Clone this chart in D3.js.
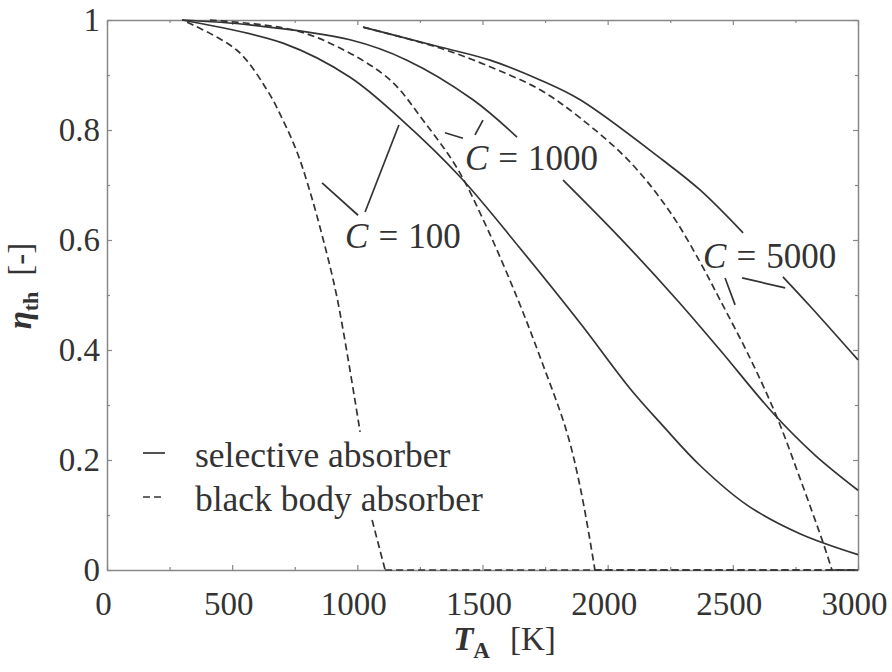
<!DOCTYPE html>
<html>
<head>
<meta charset="utf-8">
<script src="https://cdn.jsdelivr.net/npm/d3@7"></script>
<style>
  body { margin: 0; background: #fff; }
</style>
</head>
<body>
<script>
// efficiency curves, [T_A in K, eta_th]; null = gap left for a label
const selective100 = [[300, 1.0], [703, 0.958], [971, 0.896], [1178, 0.818], [1410, 0.715],
  [1650, 0.585], [1890, 0.449], [2089, 0.330], [2221, 0.262], [2369, 0.190], [2557, 0.118],
  [2768, 0.066], [3000, 0.028]];
const selective1000 = [[300, 1.0], [571, 0.991], [971, 0.964], [1198, 0.927], [1462, 0.855],
  [1638, 0.787], [1730, null], [1822, 0.709], [2049, 0.604], [2277, 0.491], [2449, 0.40],
  [2661, 0.285], [2828, 0.209], [3000, 0.145]];
const selective5000 = [[1023, 0.987], [1330, 0.951], [1530, 0.927], [1730, 0.891], [1890, 0.855],
  [2221, 0.745], [2369, 0.691], [2541, 0.613], [2620, null], [2700, 0.533], [2808, 0.48], [3000, 0.382]];
const blackbody100 = [[320, 0.996], [519, 0.945], [639, 0.873], [703, 0.818], [759, 0.760],
  [803, 0.700], [859, 0.609], [919, 0.495], [1011, 0.251], [1035, null], [1059, 0.091], [1111, 0]];
const blackbody1000 = [[411, 1.0], [743, 0.982], [931, 0.949], [1131, 0.891], [1262, 0.818],
  [1398, 0.731], [1518, 0.622], [1642, 0.491], [1740, 0.375], [1838, 0.249], [1895, 0.140], [1949, 0]];
const blackbody5000 = [[1023, 0.987], [1330, 0.949], [1530, 0.915], [1730, 0.873], [1890, 0.822],
  [2089, 0.742], [2249, 0.651], [2369, 0.560], [2449, 0.491], [2569, 0.385], [2676, 0.278],
  [2768, 0.167], [2861, 0.049], [2896, 0]];
// black body curves stay at eta = 0 from where they hit zero up to 3000 K
const blackbodyZeroFrom = [1111, 1949, 2896];

const xMajor = [0, 500, 1000, 1500, 2000, 2500, 3000];
const xMinor = [250, 750, 1250, 1750, 2250, 2750];
const yMajor = [0, 0.2, 0.4, 0.6, 0.8, 1];
const yMinor = [0.1, 0.3, 0.5, 0.7, 0.9];

// "C = ..." annotations: label anchor and leader lines, in data units
const labelNames = ["100", "1000", "5000"];
const labelAnchors = [[951, 0.585], [1430, 0.727], [2381, 0.549]];
const leaderLines = [
  [[859, 0.704], [1003, 0.645]], [[1031, 0.651], [1166, 0.809]],
  [[1350, 0.795], [1422, 0.785]], [[1470, 0.791], [1502, 0.818]],
  [[2469, 0.531], [2509, 0.482]], [[2537, 0.531], [2709, 0.513]]
];

const W = 892, H = 672;
const margin = {top: 20, right: 34, bottom: 102, left: 107};
const width = W - margin.left - margin.right;
const height = H - margin.top - margin.bottom;
const serif = "Liberation Serif";

// every text gets the serif face both as attribute and inline style
function serifText(sel, size) {
  return sel.attr("font-family", serif)
    .style("font-family", '"Liberation Serif"')
    .attr("font-size", size)
    .attr("fill", "#333");
}

const svg = d3.select("body").append("svg")
  .attr("width", W)
  .attr("height", H)
  .attr("font-family", serif);

const g = svg.append("g").attr("transform", `translate(${margin.left},${margin.top})`);

const x = d3.scaleLinear().domain([0, 3000]).range([0, width]);
const y = d3.scaleLinear().domain([0, 1]).range([height, 0]);

const axisColor = "#888";
const lineColor = "#333";

// frame + ticks on all four sides, pointing inwards
function styleAxis(sel) {
  sel.attr("font-family", serif).attr("font-size", 33);
  sel.selectAll(".domain").attr("stroke", axisColor).attr("stroke-width", 1.5);
  sel.selectAll(".tick line").attr("stroke", axisColor).attr("stroke-width", 1.2);
  sel.selectAll("text").call(serifText, 33);
}

g.append("g").attr("transform", `translate(0,${height})`)
  .call(d3.axisBottom(x).tickValues(xMinor).tickSize(-3).tickSizeOuter(0).tickFormat(""))
  .call(s => s.select(".domain").remove()).call(styleAxis);
g.append("g").attr("transform", `translate(0,${height})`)
  .call(d3.axisBottom(x).tickValues(xMajor).tickSize(-5).tickSizeOuter(0).tickPadding(22).tickFormat(d3.format("d")))
  .call(styleAxis)
  .call(s => s.selectAll("text").attr("dx", -4));

g.append("g")
  .call(d3.axisTop(x).tickValues(xMinor).tickSize(-3).tickSizeOuter(0).tickFormat(""))
  .call(s => s.select(".domain").remove()).call(styleAxis);
g.append("g")
  .call(d3.axisTop(x).tickValues(xMajor).tickSize(-5).tickSizeOuter(0).tickFormat(""))
  .call(styleAxis);

g.append("g")
  .call(d3.axisLeft(y).tickValues(yMinor).tickSize(-3).tickSizeOuter(0).tickFormat(""))
  .call(s => s.select(".domain").remove()).call(styleAxis);
g.append("g")
  .call(d3.axisLeft(y).tickValues(yMajor).tickSize(-5).tickSizeOuter(0).tickPadding(7).tickFormat(d => d3.format("")(d)))
  .call(styleAxis);

g.append("g").attr("transform", `translate(${width},0)`)
  .call(d3.axisRight(y).tickValues(yMinor).tickSize(-3).tickSizeOuter(0).tickFormat(""))
  .call(s => s.select(".domain").remove()).call(styleAxis);
g.append("g").attr("transform", `translate(${width},0)`)
  .call(d3.axisRight(y).tickValues(yMajor).tickSize(-5).tickSizeOuter(0).tickFormat(""))
  .call(styleAxis);

// curves
const line = d3.line()
  .defined(d => d[1] !== null)
  .x(d => x(d[0]))
  .y(d => y(d[1]))
  .curve(d3.curveCatmullRom.alpha(0.5));

const series = [
  {data: selective100, dash: null},
  {data: selective1000, dash: null},
  {data: selective5000, dash: null},
  {data: blackbody100, dash: "7,4"},
  {data: blackbody1000, dash: "7,4"},
  {data: blackbody5000, dash: "7,4"}
];

g.append("g").selectAll("path")
  .data(series)
  .join("path")
  .attr("d", d => line(d.data))
  .attr("fill", "none")
  .attr("stroke", lineColor)
  .attr("stroke-width", 1.7)
  .attr("stroke-dasharray", d => d.dash);

g.append("g").selectAll("line")
  .data(blackbodyZeroFrom)
  .join("line")
  .attr("x1", d => x(d)).attr("x2", x(3000))
  .attr("y1", y(0)).attr("y2", y(0))
  .attr("stroke", lineColor)
  .attr("stroke-width", 1.7)
  .attr("stroke-dasharray", "7,4");

// annotations
g.append("g").selectAll("line")
  .data(leaderLines)
  .join("line")
  .attr("x1", d => x(d[0][0])).attr("y1", d => y(d[0][1]))
  .attr("x2", d => x(d[1][0])).attr("y2", d => y(d[1][1]))
  .attr("stroke", lineColor)
  .attr("stroke-width", 1.7);

const labels = g.append("g").selectAll("text")
  .data(labelNames)
  .join("text")
  .attr("x", (d, i) => x(labelAnchors[i][0]))
  .attr("y", (d, i) => y(labelAnchors[i][1]))
  .call(serifText, 35);
labels.append("tspan").attr("font-style", "italic").text("C");
labels.append("tspan").attr("dx", 10).text("=");
labels.append("tspan").attr("dx", 10).text(d => d);

// legend
const legend = g.append("g").attr("transform", "translate(36,0)");
const legendItems = [
  {label: "selective absorber", dash: null, y: 433},
  {label: "black body absorber", dash: "7,4", y: 477}
];
legendItems.forEach(it => {
  legend.append("line")
    .attr("x1", 0).attr("x2", 22)
    .attr("y1", it.y).attr("y2", it.y)
    .attr("stroke", lineColor).attr("stroke-width", 1.7)
    .attr("stroke-dasharray", it.dash);
  legend.append("text")
    .attr("x", 52).attr("y", it.y + 14)
    .call(serifText, 35.5)
    .text(it.label);
});

// axis titles
const xTitle = svg.append("text")
  .attr("x", margin.left + width / 2 + 22)
  .attr("y", H - 22)
  .attr("text-anchor", "middle")
  .call(serifText, 33);
xTitle.append("tspan").attr("font-weight", "bold").attr("font-style", "italic").text("T");
xTitle.append("tspan").attr("font-weight", "bold").attr("font-size", 23).attr("dy", 8).text("A");
xTitle.append("tspan").attr("dy", -8).attr("dx", 20).text("[K]");

const yTitle = svg.append("text")
  .attr("transform", `translate(31,${margin.top + height / 2 - 9}) rotate(-90)`)
  .attr("text-anchor", "middle")
  .call(serifText, 33);
yTitle.append("tspan").attr("font-weight", "bold").attr("font-style", "italic").text("η");
yTitle.append("tspan").attr("font-weight", "bold").attr("font-size", 22).attr("dy", 7).text("th");
yTitle.append("tspan").attr("dy", -7).attr("dx", 16).text("[-]");
</script>
</body>
</html>
